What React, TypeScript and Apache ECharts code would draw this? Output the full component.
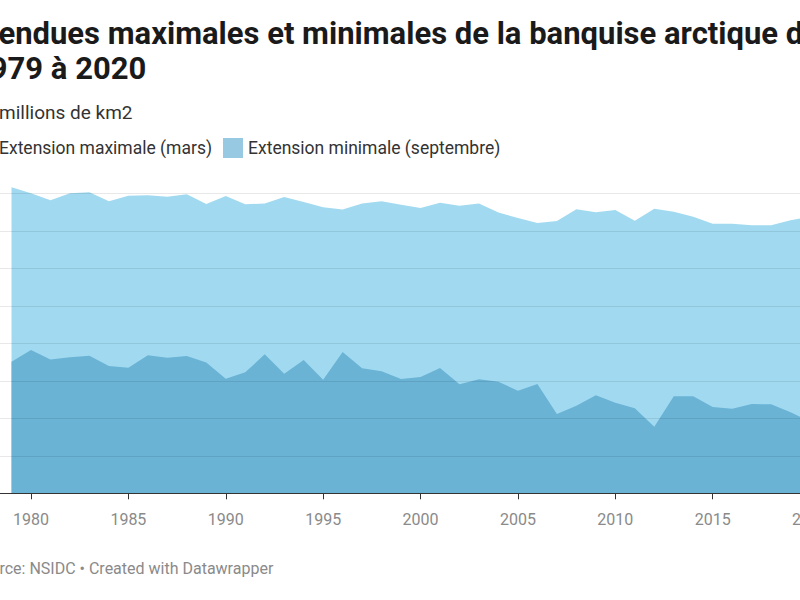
import React, { useEffect, useRef } from "react";
import * as echarts from "echarts";

const years = [
  1979, 1980, 1981, 1982, 1983, 1984, 1985, 1986, 1987, 1988, 1989, 1990, 1991, 1992,
  1993, 1994, 1995, 1996, 1997, 1998, 1999, 2000, 2001, 2002, 2003, 2004, 2005, 2006,
  2007, 2008, 2009, 2010, 2011, 2012, 2013, 2014, 2015, 2016, 2017, 2018, 2019, 2020,
];

// Extension maximale (mars), millions de km2
const maxExtent = [
  16.32, 16.0, 15.63, 16.0, 16.05, 15.57, 15.87, 15.89, 15.82, 15.95, 15.43, 15.86, 15.41, 15.46,
  15.8, 15.54, 15.25, 15.13, 15.45, 15.57, 15.39, 15.22, 15.5, 15.34, 15.45, 14.97, 14.68, 14.42,
  14.52, 15.15, 14.99, 15.11, 14.54, 15.18, 15.02, 14.75, 14.38, 14.38, 14.29, 14.29, 14.56, 14.77,
];

// Extension minimale (septembre), millions de km2
const minExtent = [
  7.02, 7.64, 7.13, 7.25, 7.34, 6.79, 6.69, 7.36, 7.23, 7.32, 6.98, 6.11, 6.45, 7.41,
  6.38, 7.11, 6.06, 7.54, 6.67, 6.51, 6.1, 6.2, 6.68, 5.81, 6.08, 5.95, 5.47, 5.83,
  4.23, 4.67, 5.23, 4.83, 4.53, 3.55, 5.17, 5.17, 4.6, 4.51, 4.76, 4.75, 4.32, 3.82,
];

const seriesNames = ["Extension maximale (mars)", "Extension minimale (septembre)"];
const titleLines = ["Étendues maximales et minimales de la banquise arctique de", "1979 à 2020"];
const subtitle = "En millions de km2";
const sourceText = "Source: NSIDC • Created with Datawrapper";

const OFFSET = 100; // chart is wider than the visible window and shifted left
const FONT = "Roboto, 'Noto Sans', sans-serif";

export default function App() {
  const ref = useRef<HTMLDivElement>(null);

  useEffect(() => {
    if (!ref.current) return;
    const chart = echarts.init(ref.current, undefined, { renderer: "svg" });
    const vx = (x: number) => x + OFFSET;

    chart.setOption({
      animation: false,
      backgroundColor: "#ffffff",
      textStyle: { fontFamily: FONT },
      grid: {
        left: 33.6,
        right: 89.9,
        top: 193.3,
        bottom: 106.7,
        containLabel: false,
        outerBoundsMode: "none",
      },
      legend: {
        left: vx(-26),
        top: 138,
        padding: 0,
        icon: "rect",
        itemWidth: 20,
        itemHeight: 20,
        itemGap: 11,
        selectedMode: false,
        textStyle: { fontSize: 17.5, color: "#333333", fontFamily: FONT },
        data: [
          { name: seriesNames[0], itemStyle: { color: "#a1daf0" } },
          { name: seriesNames[1], itemStyle: { color: "#98c9e2" } },
        ],
      },
      xAxis: {
        type: "value",
        min: 1975,
        max: 2020,
        interval: 5,
        z: 5,
        axisLine: { show: true, lineStyle: { color: "#333333", width: 1.2 } },
        axisTick: { show: true, length: 6, lineStyle: { color: "#333333", width: 1 } },
        axisLabel: {
          margin: 18,
          fontSize: 16,
          color: "#8a8a8a",
          fontFamily: FONT,
          showMaxLabel: true,
          showMinLabel: true,
          formatter: (v: number) => String(v),
        },
        splitLine: { show: false },
      },
      yAxis: {
        type: "value",
        min: 0,
        max: 16,
        interval: 2,
        z: 5,
        axisLine: { show: false },
        axisTick: { show: false },
        axisLabel: { show: false },
        splitLine: { show: true, lineStyle: { color: "rgba(0,0,0,0.09)", width: 1 } },
      },
      series: [
        {
          name: seriesNames[0],
          type: "line",
          data: years.map((y, i) => [y, maxExtent[i]]),
          symbol: "none",
          showSymbol: false,
          clip: false,
          z: 2,
          itemStyle: { color: "#a1daf0" },
          lineStyle: { width: 0, color: "#a1daf0" },
          areaStyle: { color: "#a1daf0", opacity: 1 },
        },
        {
          name: seriesNames[1],
          type: "line",
          data: years.map((y, i) => [y, minExtent[i]]),
          symbol: "none",
          showSymbol: false,
          clip: false,
          z: 3,
          itemStyle: { color: "#98c9e2" },
          lineStyle: { width: 0, color: "#6ab3d5" },
          areaStyle: { color: "#6ab3d5", opacity: 1 },
        },
      ],
      graphic: [
        {
          type: "text",
          x: vx(-29.5),
          y: 33,
          style: {
            text: titleLines[0],
            font: `bold 31px ${FONT}`,
            fill: "#1a1a1a",
            align: "left",
            verticalAlign: "middle",
          },
        },
        {
          type: "text",
          x: vx(-28),
          y: 68,
          style: {
            text: titleLines[1],
            font: `bold 31px ${FONT}`,
            fill: "#1a1a1a",
            align: "left",
            verticalAlign: "middle",
          },
        },
        {
          type: "text",
          x: vx(-27),
          y: 112,
          style: {
            text: subtitle,
            font: `19px ${FONT}`,
            fill: "#333333",
            align: "left",
            verticalAlign: "middle",
          },
        },
        {
          type: "text",
          x: vx(-28),
          y: 568,
          style: {
            text: sourceText,
            font: `16px ${FONT}`,
            fill: "#8a8a8a",
            align: "left",
            verticalAlign: "middle",
          },
        },
      ],
    });

    return () => chart.dispose();
  }, []);

  return (
    <div
      style={{
        position: "fixed",
        top: 0,
        left: 0,
        width: 800,
        height: 600,
        overflow: "hidden",
        background: "#ffffff",
      }}
    >
      <div
        ref={ref}
        style={{ position: "absolute", top: 0, left: -OFFSET, width: 1000, height: 600 }}
      />
    </div>
  );
}
